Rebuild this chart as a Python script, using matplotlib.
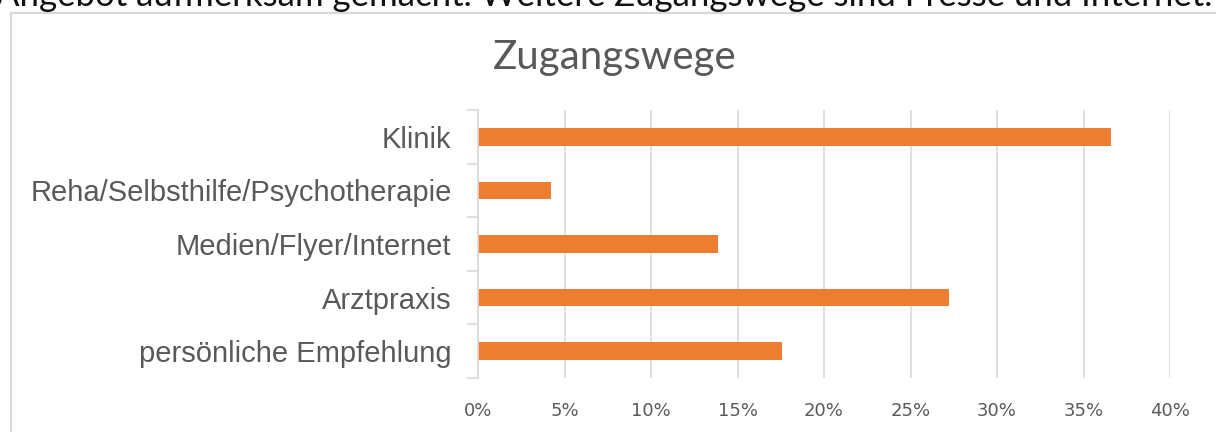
import matplotlib
matplotlib.use("Agg")
import matplotlib.pyplot as plt
from matplotlib.patches import Rectangle
from matplotlib.ticker import PercentFormatter

categories = ["persönliche Empfehlung", "Arztpraxis", "Medien/Flyer/Internet",
              "Reha/Selbsthilfe/Psychotherapie", "Klinik"]
values = [17.6, 27.2, 13.9, 4.2, 36.6]
xticks = [0, 5, 10, 15, 20, 25, 30, 35, 40]

grey = "#595959"
orange = "#ED7D31"

fig = plt.figure(figsize=(12.16, 4.32), dpi=100)

# text above the chart, cut off by the image edge like in the source
fig.text(0.997, 1 - 6 / 432, "Angebot aufmerksam gemacht. Weitere Zugangswege sind Presse und Internet.",
         ha="right", va="baseline", fontsize=25, family="Lato", color="#111111")

# chart frame
fig.add_artist(Rectangle((11 / 1216, -0.2), 1.2, 1 - 13 / 432 + 0.2,
                         transform=fig.transFigure, fill=False,
                         edgecolor="#d9d9d9", linewidth=1.5))

fig.text(615 / 1216, 1 - 57 / 432, "Zugangswege", ha="center", va="center",
         fontsize=29, family="Lato", color=grey)

ax = fig.add_axes([478 / 1216, 1 - 378 / 432, (1170 - 478) / 1216, (378 - 110) / 432])
pos = range(len(categories))
ax.barh(pos, values, height=0.33, color=orange)
ax.set_xlim(0, 40)
ax.set_ylim(-0.5, len(categories) - 0.5)
ax.set_xticks(xticks)
ax.xaxis.set_major_formatter(PercentFormatter(decimals=0))
ax.set_yticks(list(pos))
ax.set_yticklabels(categories, fontsize=21, family="Liberation Sans", color=grey)
ax.set_yticks([p - 0.5 for p in range(len(categories) + 1)], minor=True)
ax.tick_params(axis="y", which="major", length=0, pad=19)
ax.tick_params(axis="y", which="minor", length=8, color="#d9d9d9", width=1.2)
ax.tick_params(axis="x", length=0, pad=17, labelsize=13, labelcolor=grey)
ax.grid(axis="x", color="#d9d9d9", linewidth=1.2)
ax.set_axisbelow(True)
for s in ["top", "right", "bottom"]:
    ax.spines[s].set_visible(False)
ax.spines["left"].set_color("#d9d9d9")
ax.spines["left"].set_linewidth(1.2)

fig.savefig("out.png", dpi=100)
